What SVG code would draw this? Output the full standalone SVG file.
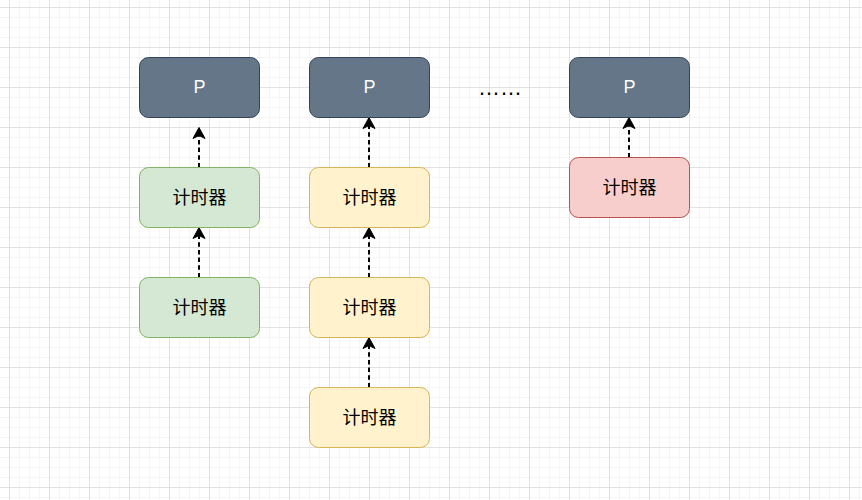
<svg xmlns="http://www.w3.org/2000/svg" width="862" height="500" viewBox="0 0 862 500">
  <style>
    .node rect { stroke-width: 1; }
    .p rect { fill: #647687; stroke: #314354; }
    .g rect { fill: #d5e8d4; stroke: #82b366; }
    .y rect { fill: #fff2cc; stroke: #d6b656; }
    .r rect { fill: #f8cecc; stroke: #b85450; }
    .lbl { font-family: "Liberation Sans", "Noto Sans CJK SC", sans-serif; font-size: 18px; text-anchor: middle; }
    .p .lbl { fill: #ffffff; }
    .cjk { fill: #000000; font-family: "Noto Sans CJK SC", sans-serif; }
    .edge { stroke: #000000; stroke-width: 2; stroke-dasharray: 4.5 3.2; fill: none; marker-end: url(#arrow); }
  </style>
  <defs>
    <pattern id="grid" patternUnits="userSpaceOnUse" x="9" y="7" width="40" height="40">
      <rect x="0" y="0" width="40" height="40" fill="#ffffff"/>
      <rect x="10" y="0" width="1" height="40" fill="#f5f5f5"/>
      <rect x="20" y="0" width="1" height="40" fill="#f5f5f5"/>
      <rect x="30" y="0" width="1" height="40" fill="#f5f5f5"/>
      <rect x="0" y="10" width="40" height="1" fill="#f5f5f5"/>
      <rect x="0" y="20" width="40" height="1" fill="#f5f5f5"/>
      <rect x="0" y="30" width="40" height="1" fill="#f5f5f5"/>
      <rect x="0" y="0" width="1" height="40" fill="#e2e2e2"/>
      <rect x="0" y="0" width="40" height="1" fill="#e2e2e2"/>
    </pattern>
    <marker id="arrow" markerUnits="userSpaceOnUse" markerWidth="14" markerHeight="14" refX="3" refY="0" orient="auto" overflow="visible">
      <path d="M11,0 L0,-6 L3,0 L0,6 Z" fill="#000000" stroke="#000000" stroke-width="1" stroke-linejoin="miter"/>
    </marker>
  </defs>
  <rect x="0" y="0" width="862" height="500" fill="url(#grid)"/>

  <g id="connectors">
    <path class="edge" d="M199,167.5 L199,135.5"/>
    <path class="edge" d="M199,277.5 L199,235.5"/>
    <path class="edge" d="M369,167.5 L369,125.5"/>
    <path class="edge" d="M369,277.5 L369,235.5"/>
    <path class="edge" d="M369,387.5 L369,345.5"/>
    <path class="edge" d="M629,157.5 L629,125.5"/>
  </g>

  <g id="p1" class="node p">
    <rect x="139.5" y="57.5" width="120" height="60" rx="9" ry="9"/>
    <text class="lbl" x="199.5" y="92.5">P</text>
  </g>
  <g id="p2" class="node p">
    <rect x="309.5" y="57.5" width="120" height="60" rx="9" ry="9"/>
    <text class="lbl" x="369.5" y="92.5">P</text>
  </g>
  <g id="p3" class="node p">
    <rect x="569.5" y="57.5" width="120" height="60" rx="9" ry="9"/>
    <text class="lbl" x="629.5" y="92.5">P</text>
  </g>

  <g id="g1" class="node g">
    <rect x="139.5" y="167.5" width="120" height="60" rx="9" ry="9"/>
    <text class="lbl cjk" x="199.5" y="204">计时器</text>
  </g>
  <g id="g2" class="node g">
    <rect x="139.5" y="277.5" width="120" height="60" rx="9" ry="9"/>
    <text class="lbl cjk" x="199.5" y="314">计时器</text>
  </g>

  <g id="y1" class="node y">
    <rect x="309.5" y="167.5" width="120" height="60" rx="9" ry="9"/>
    <text class="lbl cjk" x="369.5" y="204">计时器</text>
  </g>
  <g id="y2" class="node y">
    <rect x="309.5" y="277.5" width="120" height="60" rx="9" ry="9"/>
    <text class="lbl cjk" x="369.5" y="314">计时器</text>
  </g>
  <g id="y3" class="node y">
    <rect x="309.5" y="387.5" width="120" height="60" rx="9" ry="9"/>
    <text class="lbl cjk" x="369.5" y="424">计时器</text>
  </g>

  <g id="r1" class="node r">
    <rect x="569.5" y="157.5" width="120" height="60" rx="9" ry="9"/>
    <text class="lbl cjk" x="629.5" y="194">计时器</text>
  </g>

  <g id="ellipsis">
    <text x="500" y="95" fill="#000000" font-family="Liberation Sans, sans-serif" font-size="22" text-anchor="middle">……</text>
  </g>
</svg>
